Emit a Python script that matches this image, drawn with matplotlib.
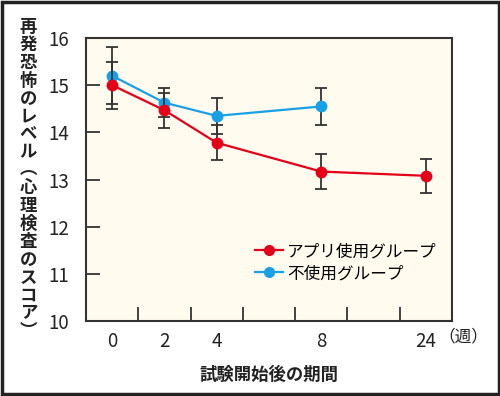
import matplotlib
matplotlib.use("Agg")
import matplotlib.pyplot as plt
from matplotlib.patches import Rectangle
from matplotlib.lines import Line2D

plt.rcParams['font.family'] = ['Noto Sans CJK JP', 'DejaVu Sans']

# data
weeks = ['0', '2', '4', '8', '24']
week_pos = [0, 1, 2, 4, 6]
app_mean = [15.0, 14.47, 13.78, 13.17, 13.08]
app_err = [0.5, 0.37, 0.37, 0.37, 0.36]
ctrl_weeks = [0, 1, 2, 4]
ctrl_mean = [15.2, 14.63, 14.35, 14.55]
ctrl_err = [0.6, 0.31, 0.38, 0.4]
ylabel_chars = list("再発恐怖のレベル︵心理検査のスコア︶")

red = '#e50019'
blue = '#17a0e6'
dark = '#333333'

fig = plt.figure(figsize=(5, 3.96), dpi=100)
fig.patch.set_facecolor('white')
ax = fig.add_axes([0.172, 0.189, 0.732, 0.715])
ax.set_facecolor('#fffcef')

ax.errorbar(ctrl_weeks, ctrl_mean, yerr=ctrl_err, color=blue, marker='o',
            markersize=7.5, linewidth=1.6, ecolor=dark, elinewidth=1.3,
            capsize=4, capthick=1.3, zorder=3)
ax.errorbar(week_pos, app_mean, yerr=app_err, color=red, marker='o',
            markersize=7.5, linewidth=1.6, ecolor=dark, elinewidth=1.3,
            capsize=4, capthick=1.3, zorder=4)

ax.set_xlim(-0.5, 6.5)
ax.set_ylim(10, 16)
ax.set_xticks(week_pos)
ax.set_xticklabels(weeks, fontsize=13.5)
ax.set_xticks([0.5, 1.5, 2.5, 3.5, 4.5, 5.5], minor=True)
ax.tick_params(axis='x', which='major', length=0, pad=7, colors='#222222')
ax.tick_params(axis='x', which='minor', direction='in', length=10, width=1.3, color=dark)
ax.set_yticks([10, 11, 12, 13, 14, 15, 16])
ax.tick_params(axis='y', direction='in', length=10, width=1.3, pad=12,
               labelsize=13.5, color=dark, labelcolor='#222222')
for s in ax.spines.values():
    s.set_color(dark)
    s.set_linewidth(1.5)

fig.text(0.927, 0.148, '（週）', fontsize=12, ha='center', va='center', color='#222222')
ax.set_xlabel('試験開始後の期間', fontsize=12.5, fontweight='bold', labelpad=10, color='#222222')

# vertical y label, one character per line
y0, step = 1 - 27 / 396, 17.9 / 396
for i, ch in enumerate(ylabel_chars):
    fig.text(0.057, y0 - i * step, ch, fontsize=12.5, fontweight='bold',
             ha='center', va='center', color='#222222')

handles = [Line2D([], [], color=red, marker='o', markersize=7, linewidth=1.6),
           Line2D([], [], color=blue, marker='o', markersize=7, linewidth=1.6)]
ax.legend(handles, ['アプリ使用グループ', '不使用グループ'], loc='lower right',
          bbox_to_anchor=(1.0, 0.085), frameon=False, fontsize=12,
          handlelength=1.7, handletextpad=0.25, labelspacing=0.3)

fig.patches.append(Rectangle((0.003, 0.004), 0.994, 0.992, transform=fig.transFigure,
                             fill=False, edgecolor='#222222', linewidth=2.5))

fig.savefig('out.png', dpi=100)
